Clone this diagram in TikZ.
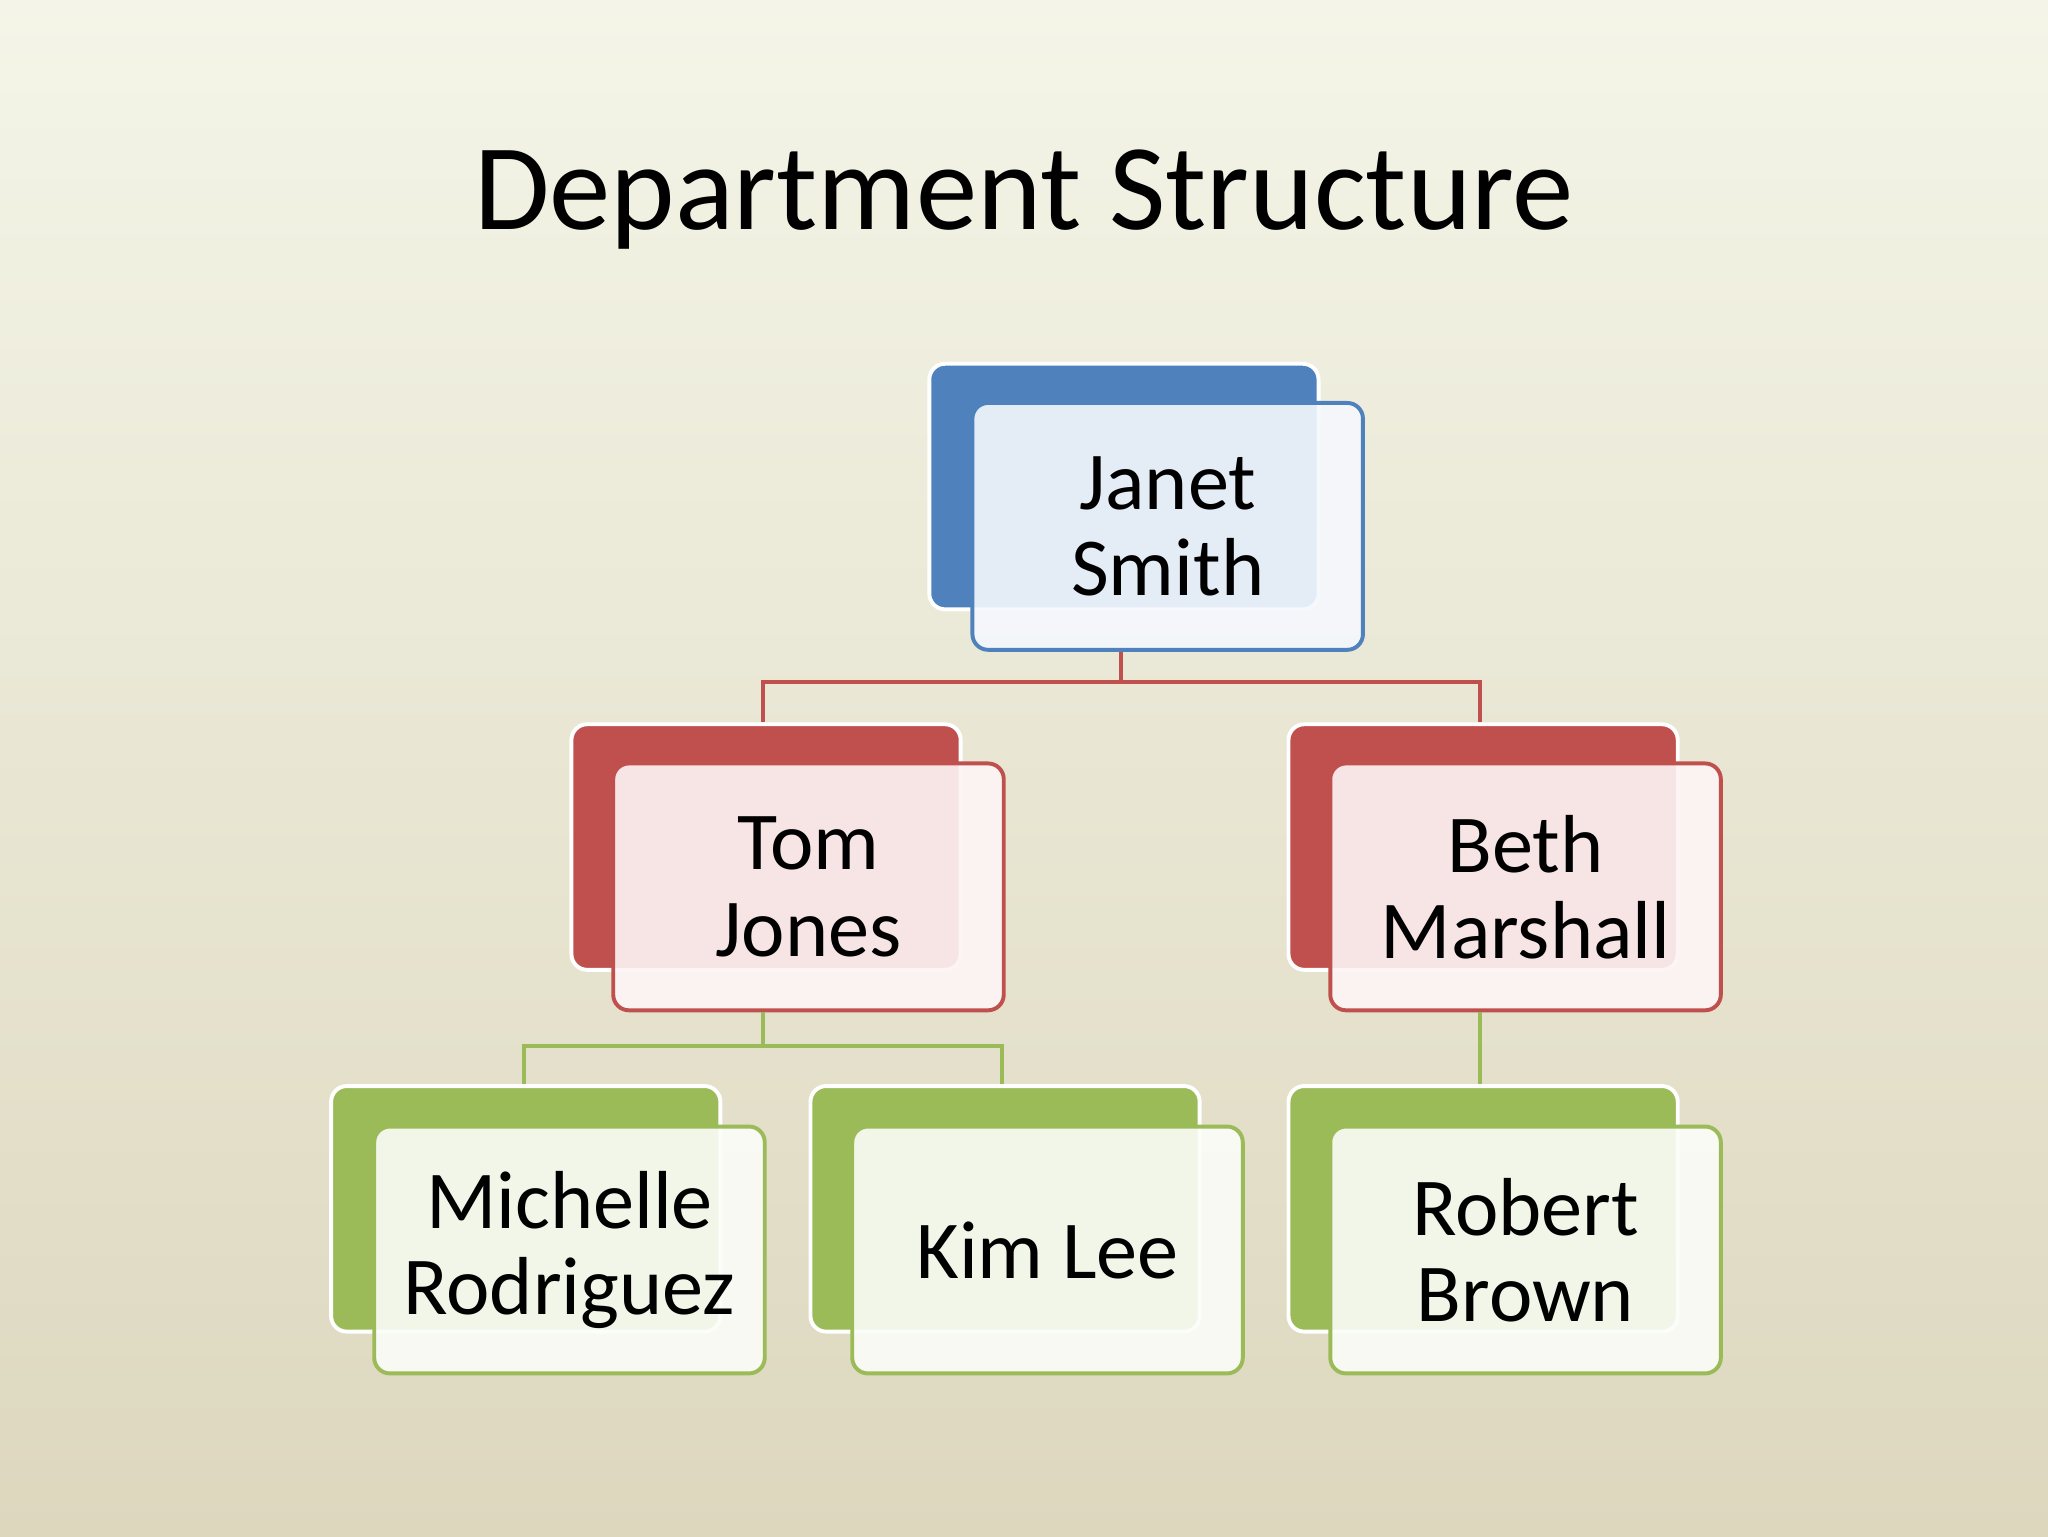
\documentclass[tikz,border=0pt]{standalone}
\usepackage{fontspec}
\setmainfont{Carlito}
\begin{document}
\begin{tikzpicture}[x=1pt,y=-1pt,
 back/.style={draw=white,line width=3pt,rounded corners=12pt,minimum width=298pt,minimum height=188pt,anchor=north west,inner sep=0pt},
 front/.style={line width=3pt,rounded corners=12pt,minimum width=299pt,minimum height=189pt,anchor=north west,inner sep=0pt,align=center,font=\fontsize{63}{66}\selectfont,fill opacity=0.9,text opacity=1},
 conn/.style={line width=3pt}]
\definecolor{cblue}{HTML}{4F81BD}\definecolor{cred}{HTML}{C0504D}\definecolor{cgreen}{HTML}{9BBB59}
\shade[top color={rgb,255:red,244;green,245;blue,232},bottom color={rgb,255:red,221;green,215;blue,190}] (0,0) rectangle (1568,1176);
\useasboundingbox (0,0) rectangle (1568,1176);
\node (title) at (784,153) {\fontsize{94}{100}\selectfont Department Structure};
% Janet
\node[back,fill=cblue] (jb) at (710,277) {};
\node[front,draw=cblue,fill={rgb,255:red,245;green,248;blue,253}] (j) at (743,307) {Janet\\Smith};
% Tom
\node[back,fill=cred] (tb) at (436,553) {};
\node[front,draw=cred,fill={rgb,255:red,253;green,245;blue,245}] (t) at (468,583) {Tom\\Jones};
% Beth
\node[back,fill=cred] (bb) at (985,553) {};
\node[front,draw=cred,fill={rgb,255:red,253;green,245;blue,245}] (b) at (1017,583) {Beth\\Marshall};
% Greens
\node[back,fill=cgreen] (mb) at (252,830) {};
\node[front,draw=cgreen,fill={rgb,255:red,251;green,253;blue,248}] (m) at (285,861) {Michelle\\Rodriguez};
\node[back,fill=cgreen] (kb) at (619,830) {};
\node[front,draw=cgreen,fill={rgb,255:red,251;green,253;blue,248}] (k) at (651,861) {Kim Lee};
\node[back,fill=cgreen] (rb) at (985,830) {};
\node[front,draw=cgreen,fill={rgb,255:red,251;green,253;blue,248}] (r) at (1017,861) {Robert\\Brown};
% connectors
\draw[conn,cred] (j.south -| 858,0) -- (858,522) -| (tb.north -| 584,0);
\draw[conn,cred] (858,522) -| (bb.north -| 1133,0);
\draw[conn,cgreen] (t.south -| 584,0) -- (584,801) -| (mb.north -| 401,0);
\draw[conn,cgreen] (584,801) -| (kb.north -| 767,0);
\draw[conn,cgreen] (b.south -| 1133,0) -- (rb.north -| 1133,0);
\end{tikzpicture}
\end{document}
